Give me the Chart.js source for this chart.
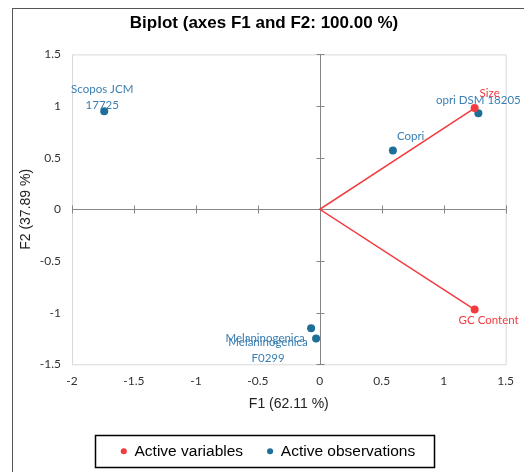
<!DOCTYPE html>
<html>
<head>
<meta charset="utf-8">
<script src="https://cdn.jsdelivr.net/npm/chart.js@4"></script>
<style>
  html, body { margin: 0; padding: 0; background: #fff; }
  #wrap { width: 524px; height: 472px; }
</style>
</head>
<body>
<div id="wrap"><canvas id="myChart" width="524" height="472"></canvas></div>
<script>
// observations (F1, F2)
const obsNames = ['Scopos JCM 17725', 'Copri', 'opri DSM 18205', 'Melaninogenica', 'Melaninogenica F0299'];
const obsF1 = [-1.74, 0.59, 1.28, -0.07, -0.03];
const obsF2 = [0.95, 0.57, 0.93, -1.15, -1.25];

// variables (F1, F2)
const varNames = ['Size', 'GC Content'];
const varF1 = [1.25, 1.25];
const varF2 = [0.98, -0.97];

const xTicks = [-2, -1.5, -1, -0.5, 0, 0.5, 1, 1.5];
const yTicks = [-1.5, -1, -0.5, 0, 0.5, 1, 1.5];

const blue = '#1f6e99';
const blueText = '#3a7fb2';
const red = '#f23a3f';

// how each text sits around its point: [lines, dx, dy, align]
const obsLabelPos = [
  [['Scopos JCM', '17725'], -2, -22, 'center'],
  [['Copri'], 4, -14, 'left'],
  [['opri DSM 18205'], 0, -13, 'center'],
  [['Melaninogenica'], -46, 10, 'center'],
  [['Melaninogenica', 'F0299'], -48, 4, 'center'],
];
const varLabelPos = [
  [['Size'], 15, -15, 'center'],
  [['GC Content'], 14, 11, 'center'],
];

// Size -> origin -> GC Content, drawn as one red polyline
const varData = [
  { x: varF1[0], y: varF2[0] },
  { x: 0, y: 0 },
  { x: varF1[1], y: varF2[1] },
];
const obsData = obsF1.map((x, i) => ({ x: x, y: obsF2[i] }));

const biplotDecor = {
  id: 'biplotDecor',
  afterLayout(chart) {
    // title and legend sit a little right of centre in the original
    chart.titleBlock.left += 9;
    chart.titleBlock.right += 9;
    chart.legend.left += 13;
    chart.legend.right += 13;
  },
  beforeDatasetsDraw(chart) {
    const { ctx, chartArea: a, scales } = chart;
    ctx.save();
    // outer frame
    ctx.strokeStyle = '#555';
    ctx.lineWidth = 1;
    ctx.strokeRect(12.5, 8.5, 540, 500);
    // plot box
    ctx.strokeStyle = '#d9d9d9';
    ctx.strokeRect(a.left + 0.5, a.top + 0.5, a.right - a.left, a.bottom - a.top);
    // zero axes with ticks
    const x0 = Math.round(scales.x.getPixelForValue(0)) + 0.5;
    const y0 = Math.round(scales.y.getPixelForValue(0)) + 0.5;
    ctx.strokeStyle = '#868686';
    ctx.beginPath();
    ctx.moveTo(x0, a.top); ctx.lineTo(x0, a.bottom);
    ctx.moveTo(a.left, y0); ctx.lineTo(a.right, y0);
    yTicks.forEach(v => {
      const py = Math.round(scales.y.getPixelForValue(v)) + 0.5;
      ctx.moveTo(x0 - 4, py); ctx.lineTo(x0 + 4, py);
    });
    xTicks.forEach(v => {
      const px = Math.round(scales.x.getPixelForValue(v)) + 0.5;
      ctx.moveTo(px, y0 - 4); ctx.lineTo(px, y0 + 4);
    });
    ctx.stroke();
    ctx.restore();
  },
  afterDraw(chart) {
    const { ctx, scales } = chart;
    ctx.save();
    ctx.font = '11.5px Lato';
    ctx.textBaseline = 'middle';
    const put = (pos, vx, vy, color) => {
      const px = scales.x.getPixelForValue(vx);
      const py = scales.y.getPixelForValue(vy);
      ctx.fillStyle = color;
      ctx.textAlign = pos[3];
      pos[0].forEach((t, k) => ctx.fillText(t, px + pos[1], py + pos[2] + k * 16));
    };
    obsLabelPos.forEach((p, i) => put(p, obsF1[i], obsF2[i], blueText));
    varLabelPos.forEach((p, i) => put(p, varF1[i], varF2[i], red));

    // legend frame
    const hb = chart.legend.legendHitBoxes;
    if (hb && hb.length) {
      const l = hb[0].left - 26;
      const last = hb[hb.length - 1];
      const r = last.left + last.width + 19;
      const cy = hb[0].top + hb[0].height / 2;
      ctx.strokeStyle = '#000';
      ctx.lineWidth = 1.5;
      ctx.strokeRect(Math.round(l) + 0.5, Math.round(cy - 16) + 0.5, Math.round(r - l), 32);
    }
    ctx.restore();
  }
};

const config = {
  type: 'scatter',
  data: {
    datasets: [{
      label: 'Active variables',
      data: varData,
      showLine: true,
      borderColor: red,
      backgroundColor: red,
      borderWidth: 1.5,
      pointRadius: [4, 0, 4],
      pointHoverRadius: [4, 0, 4],
      pointBackgroundColor: red,
      pointBorderWidth: 0,
      pointStyle: 'circle',
    }, {
      label: 'Active observations',
      data: obsData,
      backgroundColor: blue,
      borderColor: blue,
      pointRadius: 4,
      pointBorderWidth: 0,
      pointStyle: 'circle',
    }]
  },
  options: {
    responsive: false,
    animation: false,
    layout: { padding: { left: 4, right: 18, top: 0, bottom: 3 } },
    plugins: {
      title: {
        display: true,
        text: 'Biplot (axes F1 and F2: 100.00 %)',
        color: '#000',
        font: { family: 'Liberation Sans', size: 17, weight: 'bold' },
        padding: { top: 13, bottom: 21 },
      },
      legend: {
        position: 'bottom',
        labels: {
          color: '#000',
          font: { family: 'Liberation Sans', size: 15.5 },
          usePointStyle: true,
          boxWidth: 6,
          boxHeight: 4.3,
          padding: 24,
        },
      },
      tooltip: { enabled: false },
    },
    scales: {
      x: {
        type: 'linear',
        min: -2, max: 1.5,
        afterBuildTicks: s => { s.ticks = xTicks.map(v => ({ value: v })); },
        grid: { display: false, drawTicks: false },
        border: { display: false },
        ticks: {
          padding: 10,
          color: '#333',
          font: { family: 'Lato', size: 12 },
          callback: v => String(v),
        },
        title: {
          display: true,
          text: 'F1 (62.11 %)',
          color: '#222',
          font: { family: 'Liberation Sans', size: 14 },
          padding: { top: -3, bottom: 7 },
        },
      },
      y: {
        type: 'linear',
        min: -1.5, max: 1.5,
        afterBuildTicks: s => { s.ticks = yTicks.map(v => ({ value: v })); },
        grid: { display: false, drawTicks: false },
        border: { display: false },
        ticks: {
          padding: 11,
          color: '#333',
          font: { family: 'Lato', size: 12 },
          callback: v => String(v),
        },
        title: {
          display: true,
          text: 'F2 (37.89 %)',
          color: '#222',
          font: { family: 'Liberation Sans', size: 14 },
          padding: { top: 14, bottom: -6 },
        },
      },
    },
  },
  plugins: [biplotDecor],
};

const myChart = new Chart(document.getElementById('myChart'), config);
</script>
</body>
</html>
